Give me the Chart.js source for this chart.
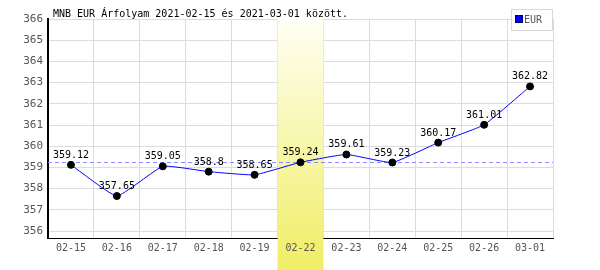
<!DOCTYPE html>
<html>
<head>
<meta charset="utf-8">
<script src="https://cdn.jsdelivr.net/npm/chart.js@4/dist/chart.umd.min.js"></script>
<style>
  html, body { margin: 0; padding: 0; background: #fff; }
  #wrap { width: 600px; height: 270px; }
</style>
</head>
<body>
<div id="wrap"><canvas id="rates"></canvas></div>
<script>
// data
const days = ['02-15', '02-16', '02-17', '02-18', '02-19', '02-22', '02-23', '02-24', '02-25', '02-26', '03-01']
const eurRates = [359.12, 357.65, 359.05, 358.8, 358.65, 359.24, 359.61, 359.23, 360.17, 361.01, 362.82]
const yTicks = [356, 357, 358, 359, 360, 361, 362, 363, 364, 365, 366]
const refLine = 359.24
const highlightDay = '02-22'
const titleText = 'MNB EUR Árfolyam 2021-02-15 és 2021-03-01 között.'
const seriesName = 'EUR'

const monoFont = '"DejaVu Sans Mono", monospace'

// yellow column behind the highlighted day, plus the dashed reference line
const bandPlugin = {
    id: 'band',
    beforeDatasetsDraw(chart) {
        const ctx = chart.ctx
        const x = chart.scales.x
        const area = chart.chartArea
        const i = days.indexOf(highlightDay)
        const half = (x.getPixelForValue(1) - x.getPixelForValue(0)) / 2
        const cx = x.getPixelForValue(i)
        const grad = ctx.createLinearGradient(0, area.top, 0, chart.height)
        grad.addColorStop(0, '#fffff4')
        grad.addColorStop(1, '#f0ee64')
        ctx.save()
        ctx.fillStyle = grad
        ctx.fillRect(cx - half, area.top, half * 2, chart.height - area.top)

        // dashed line
        const yy = Math.round(chart.scales.y.getPixelForValue(refLine)) + 0.5
        ctx.strokeStyle = '#8c8cff'
        ctx.lineWidth = 1
        ctx.setLineDash([4, 3])
        ctx.beginPath()
        ctx.moveTo(area.left, yy)
        ctx.lineTo(area.right, yy)
        ctx.stroke()
        ctx.restore()
    }
}

// value labels, title and the small legend box
const textPlugin = {
    id: 'texts',
    afterDatasetsDraw(chart) {
        const ctx = chart.ctx
        const meta = chart.getDatasetMeta(0)
        ctx.save()
        ctx.font = '10px ' + monoFont
        ctx.fillStyle = '#000'
        ctx.textAlign = 'center'
        ctx.textBaseline = 'alphabetic'
        meta.data.forEach((pt, i) => {
            ctx.fillText(String(eurRates[i]), pt.x, pt.y - 7)
        })

        ctx.textAlign = 'left'
        ctx.fillText(titleText, 53, 17)

        // legend
        ctx.fillStyle = '#fff'
        ctx.fillRect(511, 9, 41, 21)
        ctx.strokeStyle = '#d8d8d8'
        ctx.lineWidth = 1
        ctx.strokeRect(511.5, 9.5, 41, 21)
        ctx.fillStyle = '#0000ff'
        ctx.fillRect(516, 16, 6, 6)
        ctx.strokeStyle = '#000066'
        ctx.strokeRect(515.5, 15.5, 7, 7)
        ctx.fillStyle = '#555'
        ctx.textBaseline = 'middle'
        ctx.fillText(seriesName, 524, 20)
        ctx.restore()
    }
}

window.onload = function () {
    const canvas = document.getElementById('rates')
    new Chart(canvas, {
        type: 'line',
        data: {
            labels: days,
            datasets: [{
                label: seriesName,
                data: eurRates,
                borderColor: '#0000ff',
                borderWidth: 1,
                tension: 0.12,
                pointRadius: 3.5,
                pointBackgroundColor: '#000',
                pointBorderColor: '#000',
                pointBorderWidth: 1
            }]
        },
        options: {
            responsive: true,
            maintainAspectRatio: false,
            animation: false,
            layout: { padding: { top: 19, right: 47, left: 0, bottom: 0 } },
            plugins: {
                legend: { display: false },
                title: { display: false },
                tooltip: { enabled: false }
            },
            scales: {
                x: {
                    offset: true,
                    grid: { offset: true, color: '#dcdcdc', drawTicks: false },
                    border: { color: '#000', width: 1 },
                    ticks: { color: '#555', padding: 4, z: 1, maxRotation: 0, font: { family: monoFont, size: 10 } },
                    afterFit: s => { s.height = 32 }
                },
                y: {
                    min: 355.67,
                    max: 366,
                    afterBuildTicks: s => { s.ticks = yTicks.map(v => ({ value: v })) },
                    grid: { color: '#dcdcdc', drawTicks: false },
                    border: { color: '#000', width: 2 },
                    ticks: { color: '#555', padding: 5, font: { family: monoFont, size: 11 } },
                    afterFit: s => { s.width = 48 }
                }
            }
        },
        plugins: [bandPlugin, textPlugin]
    })
}
</script>
</body>
</html>
